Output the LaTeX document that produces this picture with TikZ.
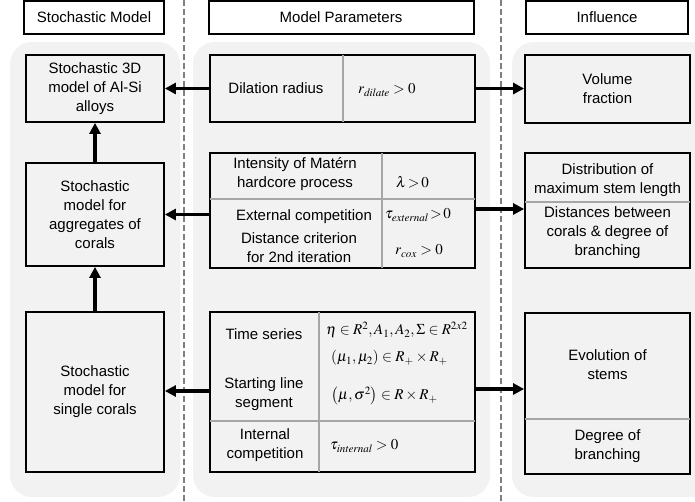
\documentclass[tikz,border=0pt]{standalone}
\usepackage{mathptmx}
\usepackage[no-math]{fontspec}
\setmainfont{Liberation Sans}
\usetikzlibrary{arrows.meta}
\definecolor{panelgray}{HTML}{F2F2F2}
\definecolor{divgray}{HTML}{A6A6A6}
\definecolor{dashgray}{HTML}{808080}
\tikzset{
  panel/.style={fill=panelgray, rounded corners=22pt},
  box/.style={draw=black, line width=1.8pt, fill=panelgray, inner sep=0pt},
  hdr/.style={draw=black, line width=2pt, fill=white, inner sep=0pt, font=\fontsize{15}{19}\selectfont},
  lbl/.style={font=\fontsize{15}{19}\selectfont, align=center, inner sep=0pt},
  mth/.style={font=\fontsize{15}{19}\selectfont, anchor=west, inner sep=0pt},
  divline/.style={draw=divgray, line width=1.5pt},
  dashline/.style={draw=dashgray, line width=1.5pt, dash pattern=on 6pt off 3pt},
  arr/.style={line width=3.3pt, -{Triangle[length=11pt,width=11pt]}},
}
\begin{document}
\begin{tikzpicture}[x=1pt,y=-1pt]
\useasboundingbox (0,0) rectangle (695,501);
\fill[white] (0,0) rectangle (695,501);
% panels
\fill[panel] (10,42) rectangle (180,497);
\fill[panel] (193,42) rectangle (490,497);
\fill[panel] (512,42) rectangle (725,497);
% dashed separators
\draw[dashline] (184,0) -- (184,501);
\draw[dashline] (501,0) -- (501,501);
% headers
\node[hdr, minimum width=140, minimum height=33] (h1) at (94,17.5) {Stochastic Model};
\node[hdr, minimum width=265, minimum height=33] (h2) at (341,17.5) {Model Parameters};
\node[hdr, minimum width=162, minimum height=33] (h3) at (607,17.5) {Influence};
% left column
\node[box, minimum width=138, minimum height=67] (L1) at (95,88.5) {};
\node[lbl] (L1t) at (L1.center) {Stochastic 3D\\model of Al-Si\\alloys};
\node[box, minimum width=138, minimum height=103] (L2) at (95,214.5) {};
\node[lbl] (L2t) at (L2.center) {Stochastic\\model for\\aggregates of\\corals};
\node[box, minimum width=138, minimum height=160] (L3) at (95,392) {};
\node[lbl] (L3t) at (L3.center) {Stochastic\\model for\\single corals};
% right column
\node[box, minimum width=165, minimum height=68] (R1) at (607.5,89) {};
\node[lbl] (R1t) at (R1.center) {Volume\\fraction};
\node[box, minimum width=165, minimum height=115] (R2) at (607.5,210.5) {};
\draw[divline] (525,202) -- (690,202);
\node[lbl] (R2a) at (607.5,180) {Distribution of\\maximum stem length};
\node[lbl] (R2b) at (607.5,233) {Distances between\\corals \& degree of\\branching};
\node[box, minimum width=165, minimum height=161] (R3) at (607.5,393.5) {};
\draw[divline] (525,419) -- (690,419);
\node[lbl] (R3a) at (607.5,365) {Evolution of\\stems};
\node[lbl] (R3b) at (607.5,446) {Degree of\\branching};
% middle column
\node[box, minimum width=265, minimum height=67] (M1) at (342.5,88.5) {};
\draw[divline] (343,55) -- (343,122);
\node[lbl] (M1a) at (276,88.5) {Dilation radius};
\node[mth] (M1b) at (358,90) {$r_{\mathit{dilate}} > 0$};
\node[box, minimum width=265, minimum height=115] (M2) at (342.5,210.5) {};
\draw[divline] (210,199) -- (475,199);
\draw[divline] (382,153) -- (382,268);
\node[lbl] (M2a) at (295,174) {Intensity of Matérn\\hardcore process};
\node[mth] (M2b) at (396,182) {$\lambda\!>\!0$};
\node[lbl] (M2c) at (304,217) {External competition};
\node[lbl] (M2d) at (299,248) {Distance criterion\\for 2nd iteration};
\node[mth] (M2e) at (385,215) {$\tau_{\mathit{external}}\!>\!0$};
\node[mth] (M2f) at (395,251) {$r_{\mathit{cox}} > 0$};
\node[box, minimum width=265, minimum height=160] (M3) at (342.5,392) {};
\draw[divline] (319,312) -- (319,472);
\draw[divline] (210,421) -- (475,421);
\node[lbl] (M3a) at (264,334) {Time series};
\node[lbl] (M3b) at (264,394) {Starting line\\segment};
\node[mth] (M3c) at (326,330) {$\eta \in R^2, A_1, A_2, \Sigma \in R^{2x2}$};
\node[mth] (M3d) at (331,358) {$(\mu_1, \mu_2) \in R_+ \times R_+$};
\node[mth] (M3e) at (331,396) {$\bigl(\mu, \sigma^2\bigr) \in R \times R_+$};
\node[lbl] (M3f) at (265,445) {Internal\\competition};
\node[mth] (M3g) at (330,446) {$\tau_{\mathit{internal}} > 0$};
% arrows
\draw[arr] (M1.west) -- (L1.east);
\draw[arr] (M2.west |- L2.east) -- (L2.east);
\draw[arr] (M3.west |- 0,391) -- (L3.east |- 0,391);
\draw[arr] (M1.east) -- (R1.west |- M1.east);
\draw[arr] (M2.east |- 0,209) -- (R2.west |- 0,209);
\draw[arr] (M3.east |- 0,389) -- (R3.west |- 0,389);
\draw[arr] (L2.north) -- (L1.south);
\draw[arr] (L3.north) -- (L2.south);
\end{tikzpicture}
\end{document}
